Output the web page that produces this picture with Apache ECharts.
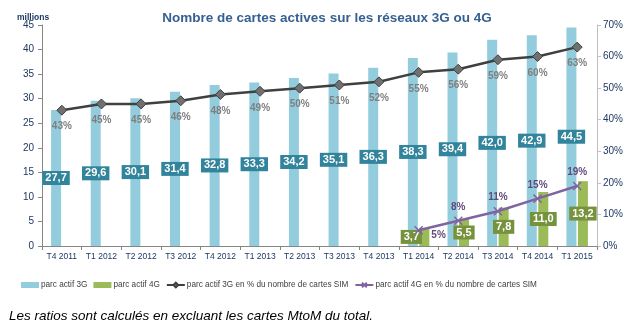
<!DOCTYPE html>
<html><head><meta charset="utf-8">
<script src="https://cdn.jsdelivr.net/npm/echarts@6/dist/echarts.min.js"></script>
<style>html,body{margin:0;padding:0;background:#fff}#c{width:632px;height:322px}</style>
</head><body><div id="c"></div>
<script>
const categories = ['T4 2011','T1 2012','T2 2012','T3 2012','T4 2012','T1 2013','T2 2013','T3 2013','T4 2013','T1 2014','T2 2014','T3 2014','T4 2014','T1 2015'];
const parc3G = [27.7,29.6,30.1,31.4,32.8,33.3,34.2,35.1,36.3,38.3,39.4,42.0,42.9,44.5];
const parc4G = [null,null,null,null,null,null,null,null,null,3.7,5.5,7.8,11.0,13.2];
const pct3G = [43,45,45,46,48,49,50,51,52,55,56,59,60,63];
const pct4G = [null,null,null,null,null,null,null,null,null,5,8,11,15,19];
const leftTicks = [0,5,10,15,20,25,30,35,40,45];
const rightTicks = [0,10,20,30,40,50,60,70];

const F = 'Liberation Sans, Arial, sans-serif';
const fmtNum = p => p.value == null ? '' : p.value.toFixed(1).replace('.', ',');
const chart = echarts.init(document.getElementById('c'));
chart.setOption({
  animation: false,
  textStyle: {fontFamily: F},
  title: [{
    text: 'Nombre de cartes actives sur les réseaux 3G ou 4G',
    left: 322, top: 6, textAlign: 'center',
    textStyle: {fontFamily: F, fontSize: 13.5, fontWeight: 'bold', color: '#376092'}
  }, {
    text: 'millions', left: 12, top: 8,
    textStyle: {fontFamily: F, fontSize: 8.5, fontWeight: 'bold', color: '#1F3864'}
  }, {
    text: 'Les ratios sont calculés en excluant les cartes MtoM du total.',
    left: 4, top: 304,
    textStyle: {fontFamily: F, fontSize: 13.5, fontStyle: 'italic', fontWeight: 'normal', color: '#000'}
  }],
  legend: {
    bottom: 28, left: 16, itemGap: 6, itemWidth: 18, itemHeight: 6,
    textStyle: {fontFamily: F, fontSize: 8.2, color: '#404040', padding: [0, 0, 0, -3]},
    data: [
      {name: 'parc actif 3G', icon: 'rect'},
      {name: 'parc actif 4G', icon: 'rect'},
      {name: 'parc actif 3G en % du nombre de cartes SIM'},
      {name: 'parc actif 4G en % du nombre de cartes SIM'}
    ]
  },
  grid: {left: 42, right: 35, top: 25, bottom: 76, containLabel: false},
  xAxis: {
    type: 'category', data: categories,
    axisLine: {lineStyle: {color: '#868686'}},
    axisTick: {show: true, interval: 0, lineStyle: {color: '#868686'}, length: 4},
    axisLabel: {interval: 0, fontSize: 8.5, color: '#1F3864', margin: 6}
  },
  yAxis: [{
    type: 'value', min: 0, max: 45, interval: 5,
    axisLine: {show: true, lineStyle: {color: '#868686'}},
    axisTick: {show: true, lineStyle: {color: '#868686'}, length: 4},
    splitLine: {show: false},
    axisLabel: {fontSize: 10, color: '#1F3864', margin: 8}
  }, {
    type: 'value', min: 0, max: 70, interval: 10, position: 'right',
    axisLine: {show: true, lineStyle: {color: '#BFBFBF'}},
    axisTick: {show: true, lineStyle: {color: '#BFBFBF'}, length: 4},
    splitLine: {show: false},
    axisLabel: {fontSize: 10, color: '#1F3864', margin: 6, formatter: '{value}%'}
  }],
  series: [{
    name: 'parc actif 3G', type: 'bar', data: parc3G, barWidth: 10, barGap: '15%',
    itemStyle: {color: '#93CDDD'},
    label: {show: true, position: 'inside', formatter: fmtNum, color: '#fff', fontWeight: 'bold',
      fontSize: 11, fontFamily: F, backgroundColor: '#31849B', padding: [2, 3, 1, 3]}
  }, {
    name: 'parc actif 4G', type: 'bar',
    data: parc4G.map((v, i) => (i === 9 && v != null) ? {value: v, label: {offset: [-13, 0]}} : v),
    barWidth: 10,
    itemStyle: {color: '#9BBB59'},
    label: {show: true, position: 'inside', formatter: fmtNum, color: '#fff', fontWeight: 'bold',
      fontSize: 11, fontFamily: F, backgroundColor: '#76923C', padding: [2, 3, 1, 3]}
  }, {
    name: 'parc actif 3G en % du nombre de cartes SIM', type: 'line', yAxisIndex: 1, data: pct3G,
    symbol: 'diamond', symbolSize: 10,
    lineStyle: {color: '#404040', width: 2.5},
    itemStyle: {color: '#707070', borderColor: '#404040', borderWidth: 1},
    label: {show: true, position: 'bottom', distance: 6, formatter: '{c}%', color: '#7F7F7F',
      fontWeight: 'bold', fontSize: 10, fontFamily: F},
    z: 5
  }, {
    name: 'parc actif 4G en % du nombre de cartes SIM', type: 'line', yAxisIndex: 1,
    data: pct4G.map((v, i) => (i === 9 && v != null) ? {value: v, label: {position: 'right', offset: [4, 5]}} : v),
    symbol: 'path://M-1,-1L1,1M1,-1L-1,1', symbolSize: 8,
    lineStyle: {color: '#8064A2', width: 2.5},
    itemStyle: {color: '#8064A2', borderColor: '#8064A2', borderWidth: 1.5},
    label: {show: true, position: 'top', distance: 4, formatter: '{c}%', color: '#604A7B',
      fontWeight: 'bold', fontSize: 10, fontFamily: F},
    z: 6
  }]
});
</script></body></html>
